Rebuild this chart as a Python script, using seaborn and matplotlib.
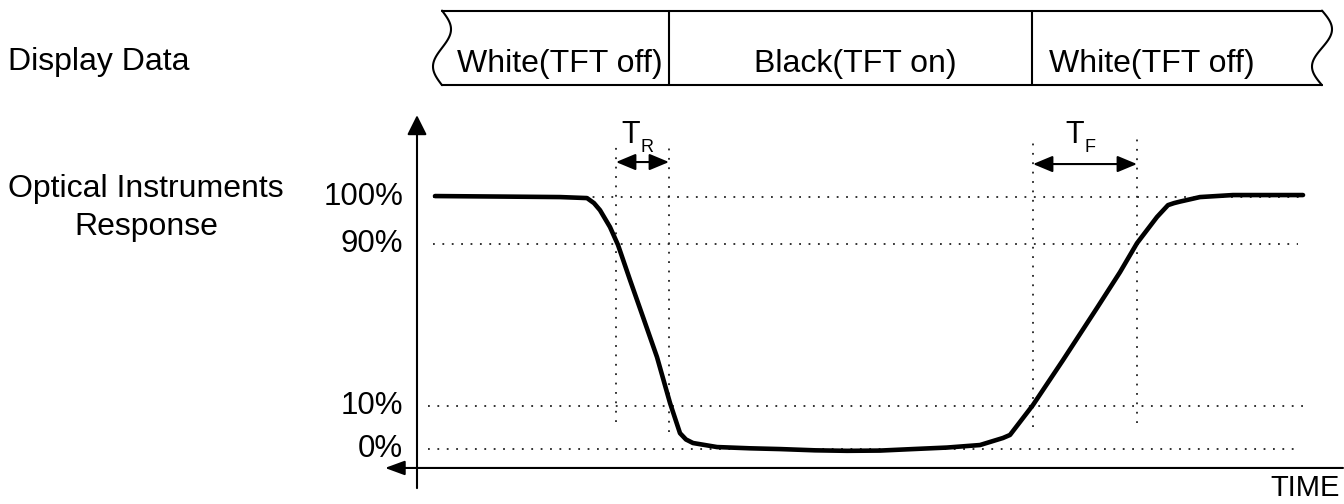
import numpy as np
import pandas as pd
import seaborn as sns
import matplotlib.pyplot as plt

# optical response (time in arbitrary units, level in drawn units)
time = [1.8, 8.3, 14.3, 17.0, 17.7, 18.3, 19.3, 20.1, 21.3, 22.6, 24.0, 25.3, 26.3,
        26.9, 27.6, 30.0, 33.3, 36.3, 39.8, 43.0, 46.3, 49.6, 53.0, 56.3, 58.6, 59.3,
        61.6, 64.6, 68.0, 70.3, 72.0, 74.0, 75.1, 75.7, 76.3, 78.3, 81.6, 88.6]
response = [100.4, 100.2, 100.0, 99.6, 97.6, 94.8, 88.1, 81.0, 67.1, 52.4, 36.5, 18.3, 6.3,
            3.8, 2.4, 0.8, 0.3, 0.0, -0.5, -0.7, -0.6, 0.0, 0.6, 1.6, 4.4, 5.6,
            17.5, 35.3, 56.0, 70.2, 81.7, 92.1, 96.8, 97.6, 98.2, 100.0, 100.8, 100.8]

# reference levels
level_labels = ['0%', '10%', '90%', '100%']
level_pos = [0, 17.1, 81.3, 100]
level_start = [1.1, 1.1, 1.6, 1.6]
level_end = [87.8, 88.6, 88.1, 88.3]

# timing markers (T_R, T_F)
mark_t = [19.9, 25.2, 61.6, 72.0]
mark_lo = [10.7, 6.7, 8.7, 10.3]
mark_hi = [121.8, 121.4, 123.0, 124.6]
span_names = ['R', 'F']
span_from = [19.9, 61.6]
span_to = [25.2, 72.0]

# display data band
band_labels = ['White(TFT off)', 'Black(TFT on)', 'White(TFT off)']
band_edges = [2.5, 25.2, 61.5, 90.5]
band_text_t = [14.3, 43.8, 73.5]

sns.set_theme(style='white')
plt.rcParams['font.family'] = ['Liberation Sans', 'DejaVu Sans']
plt.rcParams['text.color'] = 'black'

fig = plt.figure(figsize=(13.44, 5.04), dpi=100)
ax = fig.add_axes([0, 0, 1, 1])
ax.set_xlim(-41.7, 92.7)
ax.set_ylim(-21.8, 178.2)
ax.axis('off')

dot = (0, (1, 4.2))
fs = 23

# dotted level lines
for y, a, b in zip(level_pos, level_start, level_end):
    ax.plot([a, b], [y, y], color='#222222', lw=1.3, ls=dot)
# dotted timing lines
for t, lo, hi in zip(mark_t, mark_lo, mark_hi):
    ax.plot([t, t], [lo, hi], color='#222222', lw=1.3, ls=dot)

# response curve
df = pd.DataFrame({'time': time, 'response': response})
sns.lineplot(data=df, x='time', y='response', sort=False, estimator=None,
             color='black', lw=3.3, ax=ax)
ax.set_xlabel('')
ax.set_ylabel('')

# axes with arrow heads
ax.annotate('', xy=(0, 132.5), xytext=(0, -15.5),
            arrowprops=dict(arrowstyle='-|>,head_length=0.4,head_width=0.2',
                            mutation_scale=30, lw=1.5, color='black',
                            shrinkA=0, shrinkB=0))
ax.annotate('', xy=(-3.2, -7.5), xytext=(92.6, -7.5),
            arrowprops=dict(arrowstyle='-|>,head_length=0.6,head_width=0.22',
                            mutation_scale=20, lw=1.5, color='black',
                            shrinkA=0, shrinkB=0))

# level labels
for y, lab in zip(level_pos, level_labels):
    ax.text(-1.4, y, lab, ha='right', va='center', fontsize=fs - 0.5, color='black')

# T_R / T_F spans
for name, a, b in zip(span_names, span_from, span_to):
    y = 113.9 if name == 'R' else 113.1
    ax.annotate('', xy=(a, y), xytext=(b, y),
                arrowprops=dict(arrowstyle='<|-|>,head_length=0.6,head_width=0.25',
                                mutation_scale=20, lw=1.5, color='black',
                                shrinkA=0, shrinkB=0))
    tx = a + 0.5 if name == 'R' else a + 3.2
    ax.text(tx, 121.4, 'T', ha='left', va='baseline', fontsize=22, color='black')
    ax.text(tx + 2.0, 118.0, name, ha='left', va='baseline', fontsize=13, color='black')

# display data band
top, bot = 174.0, 144.4
ax.plot([band_edges[0], band_edges[-1]], [top, top], color='black', lw=1.5)
ax.plot([band_edges[0], band_edges[-1]], [bot, bot], color='black', lw=1.5)
s = np.linspace(0, 1, 80)
ax.plot(band_edges[0] + 0.9 * np.sin(2 * np.pi * s), top - s * (top - bot), color='black', lw=1.5)
ax.plot(band_edges[-1] + 1.0 * np.sin(2 * np.pi * s), top - s * (top - bot), color='black', lw=1.5)
for e in band_edges[1:-1]:
    ax.plot([e, e], [bot, top], color='black', lw=1.5)
for t, lab in zip(band_text_t, band_labels):
    ax.text(t, 149.6, lab, ha='center', va='baseline', fontsize=fs, color='black')

# row titles
ax.text(-40.9, 150.4, 'Display Data', ha='left', va='baseline', fontsize=fs, color='black')
ax.text(-27.1, 100.0, 'Optical Instruments', ha='center', va='baseline', fontsize=fs, color='black')
ax.text(-27.1, 84.9, 'Response', ha='center', va='baseline', fontsize=fs, color='black')
ax.text(92.3, -18.6, 'TIME', ha='right', va='baseline', fontsize=21, color='black')

fig.savefig('out.png', dpi=100)
